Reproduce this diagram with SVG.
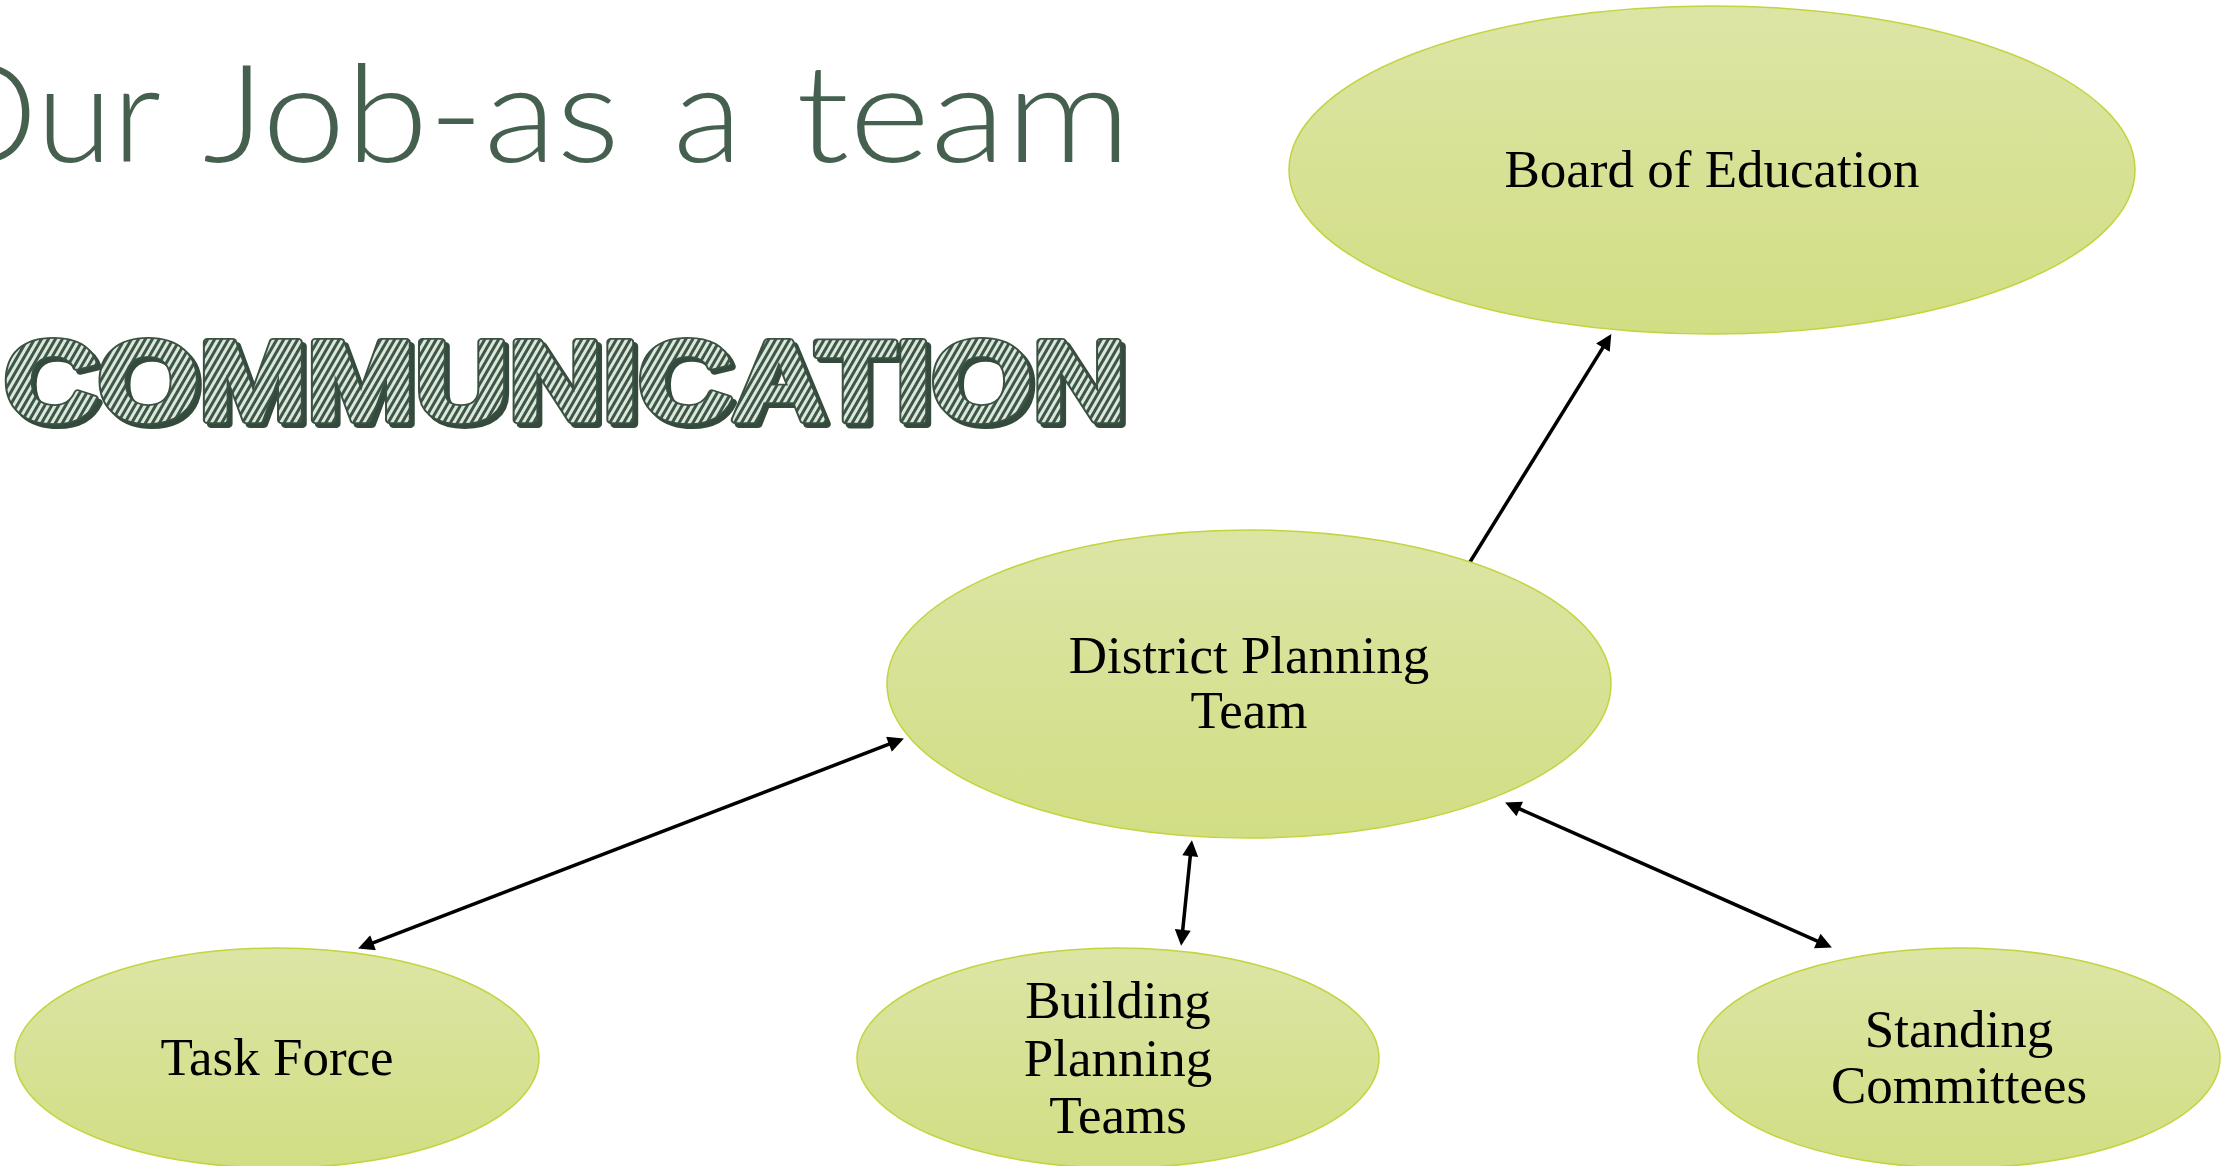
<svg xmlns="http://www.w3.org/2000/svg" width="2236" height="1166" viewBox="0 0 2236 1166">
  <defs>
    <linearGradient id="nodeFill" x1="0" y1="0" x2="0" y2="1">
      <stop offset="0" stop-color="#dde5a5"/>
      <stop offset="1" stop-color="#d2de84"/>
    </linearGradient>
    <pattern id="stripes" patternUnits="userSpaceOnUse" width="6" height="6" patternTransform="rotate(30)">
      <rect width="6" height="6" fill="#dce8dc"/>
      <rect x="0" y="0" width="3" height="6" fill="#3d5647"/>
    </pattern>
    <marker id="arrow" viewBox="0 0 10 10" refX="7" refY="5" markerUnits="userSpaceOnUse" markerWidth="19" markerHeight="16" orient="auto-start-reverse">
      <path d="M0,0 L10,5 L0,10 z" fill="#000"/>
    </marker>
    <style>
      .node ellipse { fill: url(#nodeFill); stroke: #c3d43f; stroke-width: 1.5; }
      .label { font-family: "Liberation Serif", "DejaVu Serif", serif; font-size: 53px; fill: #000; text-anchor: middle; }
      .conn { stroke: #000; stroke-width: 3.5; fill: none; }
      .title { font-family: "Lato", "Open Sans", "DejaVu Sans", sans-serif; font-weight: 300; font-size: 136px; fill: #46604f; }
      .comm { font-family: "Liberation Sans", "DejaVu Sans", sans-serif; font-weight: 700; font-size: 114px; stroke-linejoin: round; }
    </style>
  </defs>
  <rect width="2236" height="1166" fill="#ffffff"/>

  <g id="title">
    <text class="title" y="162"><tspan x="-72" textLength="233" lengthAdjust="spacingAndGlyphs">Our</tspan><tspan x="203" textLength="417" lengthAdjust="spacingAndGlyphs">Job-as</tspan><tspan x="673" textLength="69" lengthAdjust="spacingAndGlyphs">a</tspan><tspan x="796" textLength="335" lengthAdjust="spacingAndGlyphs">team</tspan></text>
  </g>

  <g id="communication">
    <text class="comm" x="8" y="424" textLength="1122" lengthAdjust="spacingAndGlyphs" fill="#334a3c" stroke="#334a3c" stroke-width="8">COMMUNICATION</text>
    <text class="comm" x="4" y="420" textLength="1122" lengthAdjust="spacingAndGlyphs" fill="none" stroke="#3a5142" stroke-width="8">COMMUNICATION</text>
    <text class="comm" x="4" y="420" textLength="1122" lengthAdjust="spacingAndGlyphs" fill="url(#stripes)" stroke="url(#stripes)" stroke-width="4.5">COMMUNICATION</text>
  </g>

  <g id="connectors">
    <line class="conn" x1="1470" y1="562" x2="1608.8" y2="338.1" marker-end="url(#arrow)"/>
    <line class="conn" x1="899.4" y1="740.2" x2="362.6" y2="946.8" marker-start="url(#arrow)" marker-end="url(#arrow)"/>
    <line class="conn" x1="1191.4" y1="845" x2="1181.6" y2="941" marker-start="url(#arrow)" marker-end="url(#arrow)"/>
    <line class="conn" x1="1509.5" y1="804.4" x2="1827.5" y2="945.6" marker-start="url(#arrow)" marker-end="url(#arrow)"/>
  </g>

  <g id="node-board" class="node">
    <ellipse cx="1712" cy="170" rx="423" ry="164"/>
    <text class="label" x="1712" y="187">Board of Education</text>
  </g>

  <g id="node-district" class="node">
    <ellipse cx="1249" cy="684" rx="362" ry="154"/>
    <text class="label" x="1249" y="673">District Planning<tspan x="1249" y="728">Team</tspan></text>
  </g>

  <g id="node-taskforce" class="node">
    <ellipse cx="277" cy="1058" rx="262" ry="110"/>
    <text class="label" x="277" y="1075">Task Force</text>
  </g>

  <g id="node-building" class="node">
    <ellipse cx="1118" cy="1058" rx="261" ry="110"/>
    <text class="label" x="1118" y="1018">Building<tspan x="1118" y="1076">Planning</tspan><tspan x="1118" y="1133">Teams</tspan></text>
  </g>

  <g id="node-standing" class="node">
    <ellipse cx="1959" cy="1058" rx="261" ry="110"/>
    <text class="label" x="1959" y="1047">Standing<tspan x="1959" y="1103">Committees</tspan></text>
  </g>
</svg>
